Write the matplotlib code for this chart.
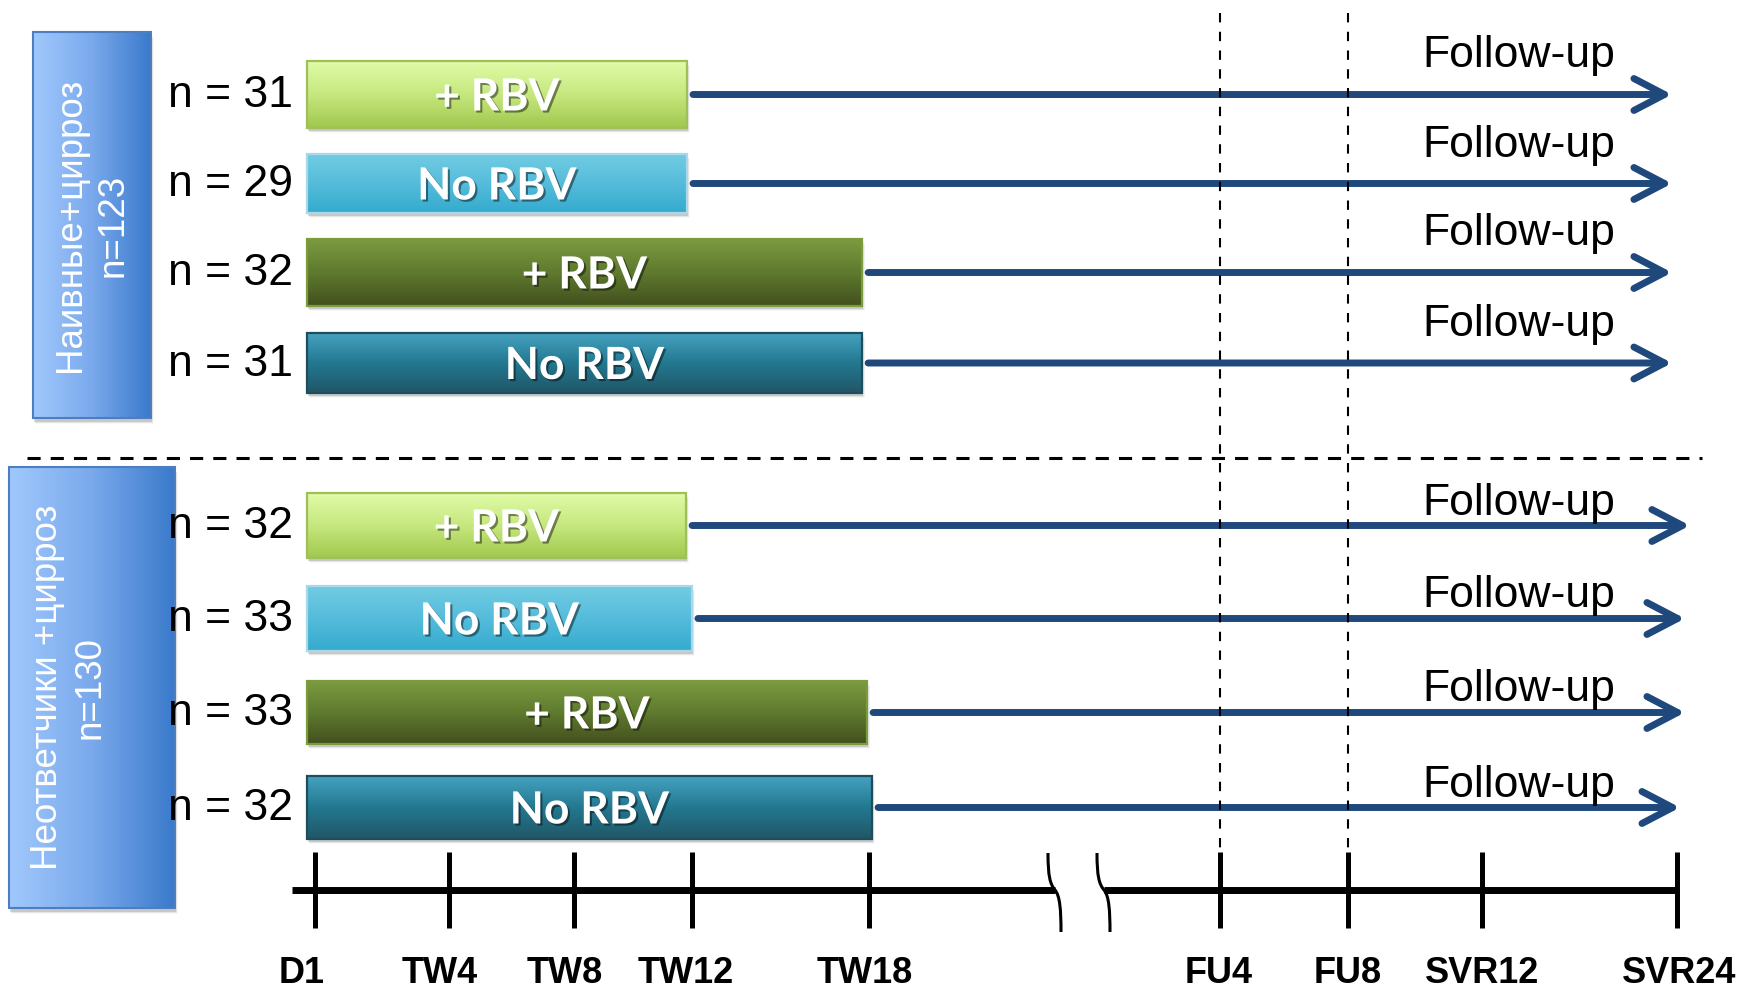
import numpy as np
import matplotlib
matplotlib.use("Agg")
import matplotlib.pyplot as plt
from matplotlib.colors import to_rgb
from matplotlib.patches import Rectangle, FancyArrowPatch, PathPatch
from matplotlib.path import Path
import matplotlib.patheffects as pe

# ---------------- data ----------------
group_labels = ["Наивные+цирроз\nn=123", "Неответчики +цирроз\nn=130"]
arm_n = [31, 29, 32, 31, 32, 33, 33, 32]
arm_label = ["+ RBV", "No RBV", "+ RBV", "No RBV", "+ RBV", "No RBV", "+ RBV", "No RBV"]
# end of treatment bar (schematic week units)
arm_end = [12.0, 12.0, 17.65, 17.65, 11.97, 12.16, 17.81, 17.97]
# tip of follow-up arrow (schematic units)
arrow_end = [43.87, 43.87, 43.87, 43.87, 44.45, 44.29, 44.29, 44.13]
follow_label = "Follow-up"
timepoints = ["D1", "TW4", "TW8", "TW12", "TW18", "FU4", "FU8", "SVR12", "SVR24"]
tick_pos = [0.0, 4.32, 8.35, 12.16, 17.87, 29.18, 33.31, 37.65, 43.94]
dashed_at = ["FU4", "FU8"]

# ---------------- layout ----------------
W, H = 1750, 991
X0, S = 315.0, 31.0


def X(px):
    return (px - X0) / S


def dx(px):
    return px / S


fig = plt.figure(figsize=(W / 100, H / 100), dpi=100)
ax = fig.add_axes([0, 0, 1, 1])

row_y = [94.5, 183.5, 272.5, 363, 525.5, 618.5, 712.5, 807.5]
row_h = [67, 59, 67, 60, 65, 65, 63, 63]
bar_x0 = X(307)
label_shift_px = [-13, -9, -9, -6, -4, -1, 0, 0, 2]

styles = [
    dict(stops=["#e0fca8", "#c6e77e", "#a0c84e"], edge="#9fbf5a"),
    dict(stops=["#72cce2", "#55bcdb", "#34aacd"], edge="#a8d8ea"),
    dict(stops=["#7c9b40", "#5f7a2e", "#434f1e"], edge="#7b9c3c"),
    dict(stops=["#45a2c0", "#237890", "#215667"], edge="#1e4d5c"),
]


def grad_img(x0, x1, ytop, ybot, stops, horizontal=False, z=2):
    n = 256
    t = np.linspace(0, 1, n)
    cols = np.array([to_rgb(c) for c in stops])
    pos = np.linspace(0, 1, len(stops))
    arr = np.stack([np.interp(t, pos, cols[:, k]) for k in range(3)], axis=1)
    img = arr[None, :, :] if horizontal else arr[:, None, :]
    ax.imshow(img, extent=(x0, x1, ybot, ytop), aspect="auto",
              origin="upper", zorder=z, interpolation="bilinear")


def soft_shadow(x0, x1, ytop, ybot, z, off=4):
    for k, a in zip(range(1, 6), [0.10, 0.08, 0.06, 0.04, 0.03]):
        ax.add_patch(Rectangle((x0 + dx(k * 0.6), ytop + off + k * 0.5 - 2),
                               x1 - x0, ybot - ytop, facecolor="#404040",
                               edgecolor="none", alpha=a, zorder=z))


# group boxes
boxes = [(33, 151, 32, 418), (9, 175, 467, 908)]
box_text_x = [91.5, 68.5]
for (bx0, bx1, by0, by1), lab, tx in zip(boxes, group_labels, box_text_x):
    soft_shadow(X(bx0), X(bx1), by0, by1, z=1, off=5)
    grad_img(X(bx0), X(bx1), by0, by1, ["#a0c8fc", "#7aa9ec", "#3a7acb"],
             horizontal=True, z=1.5)
    ax.add_patch(Rectangle((X(bx0), by0), X(bx1) - X(bx0), by1 - by0,
                           facecolor="none", edgecolor="#4d7fc0", lw=1.5,
                           zorder=1.6))
    ax.text(X(tx), (by0 + by1) / 2, lab, rotation=90, ha="center",
            va="center", multialignment="center", color="white",
            fontsize=26.5, family=["Liberation Sans", "DejaVu Sans"],
            linespacing=1.27, zorder=1.7)

# separator between groups
ax.plot([X(27), X(1702)], [458, 458], color="black", lw=2.2,
        dashes=(4.3, 3.3), zorder=2)

# arms
for i in range(8):
    st = styles[i % 4]
    yc, h = row_y[i], row_h[i]
    yt, yb = yc - h / 2, yc + h / 2
    x1 = arm_end[i]
    soft_shadow(bar_x0, x1, yt, yb, z=2)
    grad_img(bar_x0, x1, yt, yb, st["stops"], z=2.5)
    ax.add_patch(Rectangle((bar_x0, yt), x1 - bar_x0, h, facecolor="none",
                           edgecolor=st["edge"], lw=1.6, zorder=2.6))
    ax.text((bar_x0 + x1) / 2, yc + 16, arm_label[i], ha="center",
            va="baseline", color="white", fontsize=32, fontweight="bold",
            family=["Lato", "DejaVu Sans"], zorder=3,
            path_effects=[pe.withSimplePatchShadow(offset=(1.5, -1.5),
                                                   shadow_rgbFace="black",
                                                   alpha=0.45)])
    ax.text(X(293), yc + 12.5, f"n = {arm_n[i]}", ha="right", va="baseline",
            color="black", fontsize=32, family=["Liberation Sans", "DejaVu Sans"],
            zorder=3)
    arr = FancyArrowPatch((x1 + dx(6), yc), (arrow_end[i] - dx(3), yc),
                          arrowstyle="->,head_length=2.2,head_width=1.15",
                          mutation_scale=10, lw=5, color="#1f497d",
                          shrinkA=0, shrinkB=0, capstyle="round",
                          joinstyle="round", zorder=3)
    ax.add_patch(arr)
    fy = yc - (27 if i < 4 else 11)
    ax.text(X(1422), fy, follow_label, ha="left", va="baseline",
            color="black", fontsize=32,
            family=["Liberation Sans", "DejaVu Sans"], zorder=4)

# vertical dashed lines at FU4 / FU8
for name in dashed_at:
    xp = tick_pos[timepoints.index(name)]
    ax.plot([xp, xp], [13, 857], color="black", lw=1.5, dashes=(4.5, 4.5),
            zorder=5)

# timeline
y_axis = 890
brk1, brk2 = X(1055), X(1104)
ax.plot([X(292), brk1], [y_axis, y_axis], color="black", lw=5,
        solid_capstyle="butt", zorder=5)
ax.plot([brk2, tick_pos[-1]], [y_axis, y_axis], color="black", lw=5,
        solid_capstyle="butt", zorder=5)
ax.vlines(tick_pos, 852, 928, color="black", lw=3.6, zorder=5)
for bc in (brk1, brk2):
    verts = [(bc - dx(7), 853),
             (bc - dx(7), 876), (bc - dx(5), 884), (bc, 890),
             (bc + dx(5), 896), (bc + dx(6), 910), (bc + dx(6), 932)]
    codes = [Path.MOVETO] + [Path.CURVE4] * 6
    ax.add_patch(PathPatch(Path(verts, codes), facecolor="none",
                           edgecolor="black", lw=2.2, zorder=5))
for name, xp, sh in zip(timepoints, tick_pos, label_shift_px):
    ax.text(xp + dx(sh), 983, name, ha="center", va="baseline", fontsize=26,
            fontweight="bold", family=["Liberation Sans", "DejaVu Sans"],
            color="black", zorder=5)

ax.set_xlim(X(0), X(W))
ax.set_ylim(H, 0)
ax.axis("off")
fig.savefig("out.png", dpi=100)
